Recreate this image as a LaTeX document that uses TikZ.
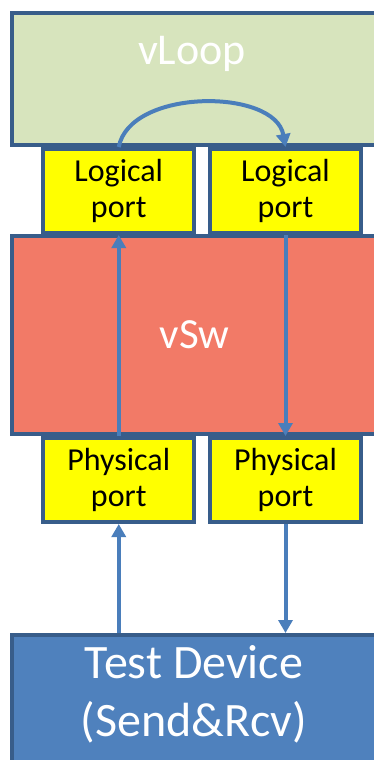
\documentclass[tikz,border=0pt]{standalone}
\usepackage{fontspec}
\setmainfont{Carlito}
\usetikzlibrary{arrows.meta, positioning}
\definecolor{edgeblue}{HTML}{385D8A}
\definecolor{loopgreen}{HTML}{D7E4BD}
\definecolor{portyellow}{HTML}{FFFF00}
\definecolor{swred}{HTML}{F27A67}
\definecolor{devblue}{HTML}{4F81BD}
\definecolor{flowblue}{HTML}{4A7EBB}
\tikzstyle{block} = [rectangle, draw=edgeblue, line width=2pt, inner sep=0pt]
\tikzstyle{wide} = [block, minimum width=183.25pt]
\tikzstyle{port} = [block, fill=portyellow, minimum width=75.5pt, minimum height=42pt, align=center, font=\fontsize{16}{18}\selectfont]
\tikzstyle{title} = [text=white, font=\fontsize{21.5}{24}\selectfont]
\tikzstyle{flow} = [draw=flowblue, line width=2pt, -{Triangle[length=6.5pt,width=7pt]}]

\begin{document}
\begin{tikzpicture}[x=0.5pt, y=-0.5pt]
\useasboundingbox (0,0) rectangle (374,760);
\clip (0,0) rectangle (374,760);

\node (vloop)	[wide, fill=loopgreen, minimum height=66pt]	at (194.75,79)	{};
\node (ll)	[port]	at (118.75,191)	{Logical\\port};
\node (lr)	[port]	at (285.5,191)	{Logical\\port};
\node (vsw)	[wide, fill=swred, minimum height=99pt, title]	at (194.75,335)	{vSw};
\node (pl)	[port]	at (118.75,480)	{Physical\\port};
\node (pr)	[port]	at (285.5,480)	{Physical\\port};
\node (dev)	[wide, fill=devblue, minimum height=82.5pt]	at (194.75,717.5)	{};

\node (looptxt)	[title, anchor=base, font=\fontsize{22}{24}\selectfont]	at (192,64)	{vLoop};
\node (devtxt)	[title, align=center, font=\fontsize{24}{29}\selectfont]	at (194,694)	{Test Device\\(Send\&Rcv)};

\draw [flow] (dev.north -| pl) -- (pl.south);
\draw [flow] (pl.north) -- (ll.south);
\draw [flow] (ll.north) .. controls (130,88) and (275,88) .. (lr.north);
\draw [flow] (lr.south) -- (pr.north);
\draw [flow] (pr.south) -- (pr.south |- dev.north);

\end{tikzpicture}
\end{document}
